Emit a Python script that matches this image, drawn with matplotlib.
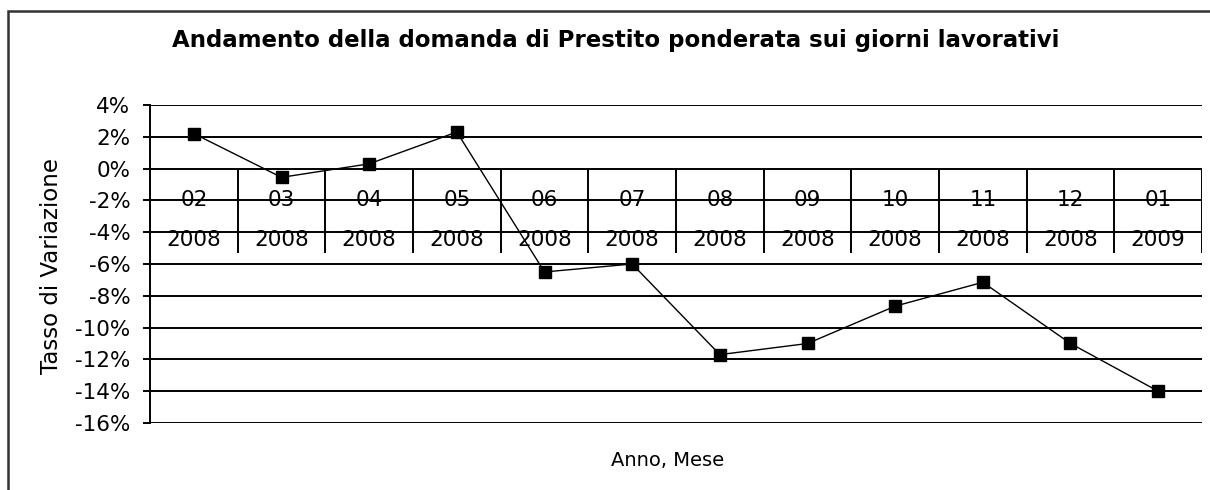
import numpy as np
import matplotlib
matplotlib.use('Agg')
import matplotlib.pyplot as plt
from matplotlib.patches import Rectangle

months = ['02', '03', '04', '05', '06', '07', '08', '09', '10', '11', '12', '01']
years = ['2008'] * 11 + ['2009']
rates = [2.2, -0.55, 0.3, 2.3, -6.5, -6.0, -11.7, -11.0, -8.65, -7.15, -11.0, -14.0]
yticks = [4, 2, 0, -2, -4, -6, -8, -10, -12, -14, -16]

W, H = 1210, 490
fig = plt.figure(figsize=(W / 100, H / 100), dpi=100)
fig.patch.set_facecolor('white')

# outer chart frame (runs off the right and bottom edges)
fig.patches.append(Rectangle((8 / W, -0.1), 1.2, 1 - 11 / H + 0.1, transform=fig.transFigure,
                             fill=False, edgecolor='#333333', linewidth=1.8))

left, right, top, bottom = 150, 1202, 105, 423
ax = fig.add_axes([left / W, 1 - bottom / H, (right - left) / W, (bottom - top) / H])

n = len(months)
x = np.arange(n)
ax.set_xlim(-0.5, n - 0.5)
ax.set_ylim(-16, 4)
ax.set_yticks(yticks)
ax.set_yticklabels([f'{v}%' for v in yticks])
ax.set_xticks([])
for v in yticks:
    ax.axhline(v, color='black', linewidth=1.4, zorder=1)

for s in ['top', 'right', 'bottom']:
    ax.spines[s].set_visible(False)
ax.spines['left'].set_linewidth(1.4)
ax.tick_params(axis='y', length=5, width=1.4, labelsize=15.5, pad=9, direction='out')

# multi-level category axis crossing at 0%
ax.vlines(np.arange(n + 1) - 0.5, -5.3, 0, color='black', linewidth=1.4, zorder=2)
for i in range(n):
    ax.text(x[i], -2, months[i], ha='center', va='center', fontsize=15.5, zorder=3)
    ax.text(x[i], -4.5, years[i], ha='center', va='center', fontsize=15.5, zorder=3)

ax.plot(x, rates, color='black', linewidth=1, marker='s', markersize=8, zorder=4)

fig.text(616 / W, 1 - 40 / H, 'Andamento della domanda di Prestito ponderata sui giorni lavorativi',
         ha='center', va='center', fontsize=16.5, fontweight='bold')
fig.text(52 / W, 1 - 266 / H, 'Tasso di Variazione', rotation=90, ha='center', va='center', fontsize=16.5)
fig.text(668 / W, 1 - 460 / H, 'Anno, Mese', ha='center', va='center', fontsize=14)

fig.savefig('out.png', dpi=100)
